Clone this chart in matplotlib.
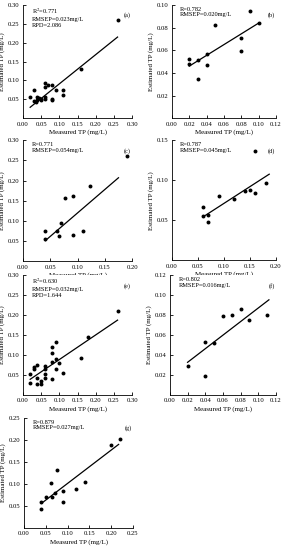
import numpy as np
import matplotlib
matplotlib.use("Agg")
import matplotlib.pyplot as plt
from matplotlib.ticker import FormatStrFormatter

plt.rcParams["font.family"] = ["Liberation Serif", "DejaVu Serif"]
plt.rcParams["mathtext.fontset"] = "stix"

# measured / estimated TP (mg/L) for each panel
a_x = [0.26, 0.16, 0.06, 0.06, 0.07, 0.08, 0.09, 0.11, 0.11, 0.02, 0.03, 0.035,
       0.04, 0.045, 0.05, 0.06, 0.08, 0.08, 0.06, 0.05, 0.04, 0.03]
a_y = [0.26, 0.13, 0.093, 0.082, 0.087, 0.087, 0.075, 0.075, 0.062, 0.056, 0.075, 0.044,
       0.049, 0.053, 0.05, 0.051, 0.047, 0.05, 0.056, 0.047, 0.055, 0.046]
b_x = [0.10, 0.09, 0.05, 0.08, 0.08, 0.02, 0.02, 0.03, 0.04, 0.04, 0.03]
b_y = [0.084, 0.095, 0.082, 0.071, 0.059, 0.052, 0.048, 0.051, 0.057, 0.047, 0.035]
c_x = [0.19, 0.122, 0.092, 0.078, 0.07, 0.041, 0.041, 0.063, 0.066, 0.091, 0.11]
c_y = [0.262, 0.186, 0.162, 0.157, 0.095, 0.074, 0.056, 0.074, 0.063, 0.066, 0.074]
d_x = [0.16, 0.18, 0.16, 0.15, 0.14, 0.12, 0.09, 0.06, 0.06, 0.07, 0.07]
d_y = [0.137, 0.096, 0.084, 0.088, 0.086, 0.077, 0.080, 0.066, 0.055, 0.057, 0.048]
e_x = [0.26, 0.18, 0.16, 0.09, 0.08, 0.08, 0.08, 0.09, 0.10, 0.09, 0.11, 0.08, 0.06,
       0.06, 0.06, 0.06, 0.04, 0.04, 0.04, 0.03, 0.03, 0.02, 0.02, 0.05, 0.05]
e_y = [0.21, 0.144, 0.092, 0.132, 0.12, 0.106, 0.083, 0.091, 0.081, 0.065, 0.056, 0.041,
       0.073, 0.064, 0.052, 0.043, 0.075, 0.042, 0.028, 0.066, 0.070, 0.053, 0.031, 0.034, 0.028]
f_x = [0.11, 0.09, 0.08, 0.07, 0.06, 0.05, 0.04, 0.04, 0.02]
f_y = [0.080, 0.075, 0.086, 0.080, 0.079, 0.052, 0.053, 0.019, 0.029]
g_x = [0.22, 0.20, 0.14, 0.12, 0.075, 0.062, 0.09, 0.09, 0.065, 0.05, 0.07, 0.04, 0.04]
g_y = [0.203, 0.188, 0.105, 0.089, 0.132, 0.103, 0.083, 0.06, 0.07, 0.07, 0.080, 0.058, 0.044]

# fitted lines: slope, intercept, x start, x end
fits = {
    "a": (0.775, 0.0135, 0.02, 0.26),
    "b": (0.475, 0.0365, 0.02, 0.10),
    "c": (1.164, 0.0033, 0.041, 0.175),
    "d": (0.42, 0.029, 0.06, 0.187),
    "e": (0.617, 0.0267, 0.02, 0.26),
    "f": (0.68, 0.019, 0.02, 0.112),
    "g": (0.757, 0.0257, 0.04, 0.217),
}

stats = {
    "a": ["R$^2$=0.771", "RMSEP=0.023mg/L", "RPD=2.086"],
    "b": ["R=0.782", "RMSEP=0.020mg/L"],
    "c": ["R=0.771", "RMSEP=0.054mg/L"],
    "d": ["R=0.787", "RMSEP=0.045mg/L"],
    "e": ["R$^2$=0.630", "RMSEP=0.032mg/L", "RPD=1.644"],
    "f": ["R=0.802", "RMSEP=0.016mg/L"],
    "g": ["R=0.879", "RMSEP=0.027mg/L"],
}

xticks = {
    "a": [0.0, 0.05, 0.10, 0.15, 0.20, 0.25, 0.30],
    "b": [0.0, 0.02, 0.04, 0.06, 0.08, 0.10, 0.12],
    "c": [0.0, 0.05, 0.10, 0.15, 0.20],
    "d": [0.0, 0.05, 0.10, 0.15, 0.20],
    "e": [0.0, 0.05, 0.10, 0.15, 0.20, 0.25, 0.30],
    "f": [0.0, 0.02, 0.04, 0.06, 0.08, 0.10, 0.12],
    "g": [0.0, 0.05, 0.10, 0.15, 0.20, 0.25],
}
yticks = {
    "a": [0.05, 0.10, 0.15, 0.20, 0.25, 0.30],
    "b": [0.02, 0.04, 0.06, 0.08, 0.10],
    "c": [0.05, 0.10, 0.15, 0.20, 0.25, 0.30],
    "d": [0.05, 0.10, 0.15],
    "e": [0.05, 0.10, 0.15, 0.20, 0.25, 0.30],
    "f": [0.02, 0.04, 0.06, 0.08, 0.10, 0.12],
    "g": [0.05, 0.10, 0.15, 0.20, 0.25],
}
data = {"a": (a_x, a_y), "b": (b_x, b_y), "c": (c_x, c_y), "d": (d_x, d_y),
        "e": (e_x, e_y), "f": (f_x, f_y), "g": (g_x, g_y)}

# axes rectangles in figure fractions
rects = {
    "a": [0.080, 0.785, 0.382, 0.206],
    "b": [0.601, 0.785, 0.364, 0.206],
    "c": [0.080, 0.525, 0.382, 0.220],
    "d": [0.601, 0.527, 0.364, 0.218],
    "e": [0.080, 0.282, 0.382, 0.218],
    "f": [0.594, 0.282, 0.371, 0.218],
    "g": [0.084, 0.040, 0.381, 0.200],
}

fig = plt.figure(figsize=(2.86, 5.5), dpi=100)

for key in "abcdefg":
    ax = fig.add_axes(rects[key])
    x, y = data[key]
    ax.scatter(x, y, s=8, color="black", zorder=3, linewidths=0)
    k, b0, x0, x1 = fits[key]
    xl = np.array([x0, x1])
    ax.plot(xl, k * xl + b0, color="black", lw=0.9)
    ax.set_xlim(0, xticks[key][-1])
    ax.set_ylim(0, yticks[key][-1])
    ax.set_xticks(xticks[key])
    ax.set_yticks(yticks[key])
    ax.xaxis.set_major_formatter(FormatStrFormatter("%.2f"))
    ax.yaxis.set_major_formatter(FormatStrFormatter("%.2f"))
    ax.spines["top"].set_visible(False)
    ax.spines["right"].set_visible(False)
    for s in ("left", "bottom"):
        ax.spines[s].set_linewidth(0.6)
    ax.tick_params(direction="in", length=2, width=0.6, labelsize=4.8, pad=2.5)
    ax.set_xlabel("Measured TP (mg/L)", fontsize=5, labelpad=2)
    ax.set_ylabel("Estimated TP (mg/L)", fontsize=5, labelpad=2)
    ax.text(0.08, 0.985, "\n".join(stats[key]), transform=ax.transAxes,
            va="top", ha="left", fontsize=4.6, linespacing=1.2)
    ax.text(0.99, 0.91, "(%s)" % key, transform=ax.transAxes,
            va="center", ha="right", fontsize=4.6)

fig.savefig("out.png", dpi=100)
